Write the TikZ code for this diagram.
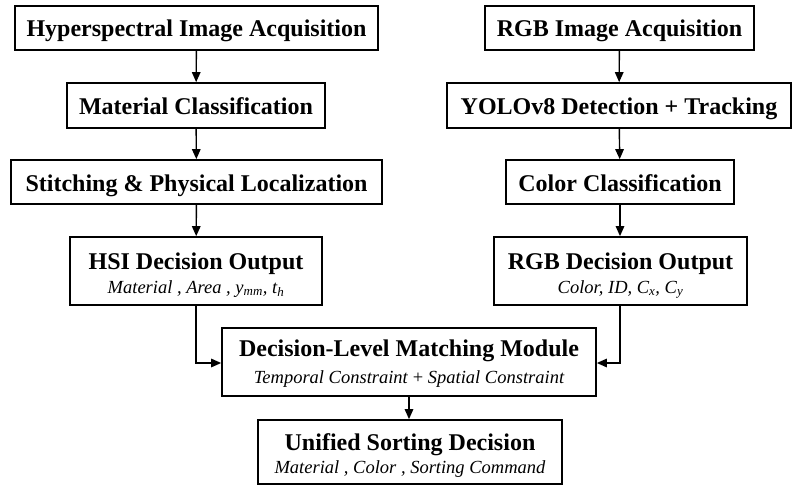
\documentclass[tikz,border=0pt]{standalone}
\usepackage{fontspec}
\setmainfont{Liberation Serif}
\usetikzlibrary{arrows.meta}
\newcommand{\ttlfont}{\fontsize{24}{28}\selectfont\bfseries}
\newcommand{\subfont}{\fontsize{18.5}{22}\selectfont\itshape}
\newcommand{\sbs}[1]{\textsubscript{\itshape #1}}
\begin{document}
\begin{tikzpicture}[x=1pt,y=-1pt,
  box/.style={draw,line width=1.7pt,inner sep=0pt,font=\ttlfont,text height=18pt,text depth=0pt},
  lbl/.style={inner sep=0pt,font=\ttlfont,anchor=base},
  sub/.style={inner sep=0pt,font=\subfont,anchor=base},
  arr/.style={line width=1.4pt,-{Triangle[length=10pt,width=8.5pt]}}]
\useasboundingbox (0,0) rectangle (797,492);
% left column
\node[box,minimum width=363pt,minimum height=44pt] (h1) at (196.5,28) {Hyperspectral Image Acquisition};
\node[box,minimum width=258pt,minimum height=45pt] (h2) at (196,105.5) {Material Classification};
\node[box,minimum width=371pt,minimum height=44pt] (h3) at (196.5,182) {Stitching \& Physical Localization};
\node[box,minimum width=252pt,minimum height=68pt] (h4) at (196,271) {};
\node[lbl] (h4t) at (196,269) {HSI Decision Output};
\node[sub] (h4s) at (196,293) {Material , Area , y\sbs{mm}, t\sbs{h}};
% right column
\node[box,minimum width=269pt,minimum height=44pt] (r1) at (619.5,28) {RGB Image Acquisition};
\node[box,minimum width=344pt,minimum height=45pt] (r2) at (619,105.5) {YOLOv8 Detection + Tracking};
\node[box,minimum width=228pt,minimum height=44pt] (r3) at (620,182) {Color Classification};
\node[box,minimum width=253pt,minimum height=68pt] (r4) at (620.5,271) {};
\node[lbl] (r4t) at (620.5,269) {RGB Decision Output};
\node[sub] (r4s) at (620.5,293) {Color, ID, C\sbs{x}, C\sbs{y}};
% matching
\node[box,minimum width=374pt,minimum height=68pt] (m) at (409,362) {};
\node[lbl] (mt) at (409,356) {Decision-Level Matching Module};
\node[sub] (ms) at (409,383) {Temporal Constraint \textup{+} Spatial Constraint};
% unified
\node[box,minimum width=304pt,minimum height=64pt] (u) at (410,452) {};
\node[lbl] (ut) at (410,450) {Unified Sorting Decision};
\node[sub] (us) at (410,473) {Material , Color , Sorting Command};
% arrows
\draw[arr] (h1) -- (h2);
\draw[arr] (h2) -- (h3);
\draw[arr] (h3) -- (h4);
\draw[arr] (r1) -- (r2);
\draw[arr] (r2) -- (r3);
\draw[arr] (r3.south) -- (r4.north-|r3.south);
\draw[arr] (h4.south) |- (m.west|-0,363);
\draw[arr] (r4.south-|r3.south) |- (m.east|-0,363);
\draw[arr] (m.south) -- (u.north-|m.south);
\end{tikzpicture}
\end{document}
